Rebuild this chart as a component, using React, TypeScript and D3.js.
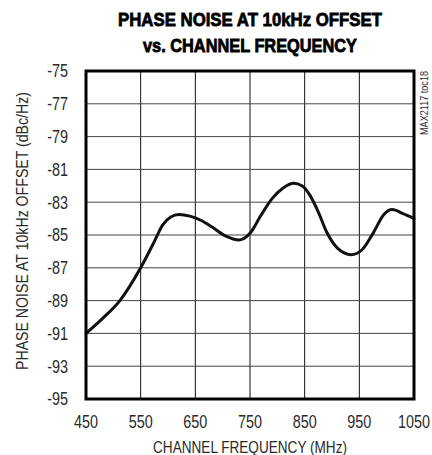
import React from "react";
import * as d3 from "d3";

const freqs = [450, 480, 512, 550, 575, 590, 605, 620, 640, 660, 680, 705, 730, 750, 770, 790, 810, 830, 845, 860, 875, 890, 910, 935, 955, 975, 995, 1010, 1030, 1050];
const noise = [-91.0, -90.1, -89.0, -87.0, -85.4, -84.4, -83.9, -83.75, -83.85, -84.1, -84.5, -85.05, -85.3, -84.9, -83.8, -82.8, -82.15, -81.85, -82.0, -82.6, -83.6, -84.8, -85.8, -86.2, -85.9, -84.9, -83.75, -83.45, -83.7, -84.0];
const xTicks = [450, 550, 650, 750, 850, 950, 1050];
const yTicks = [-75, -77, -79, -81, -83, -85, -87, -89, -91, -93, -95];
const titleLines = ["PHASE NOISE AT 10kHz OFFSET", "vs. CHANNEL FREQUENCY"];
const xLabel = "CHANNEL FREQUENCY (MHz)";
const yLabel = "PHASE NOISE AT 10kHz OFFSET (dBc/Hz)";
const tocLabel = "MAX2117 toc18";

const W = 432;
const H = 455;
const L = 86, R = 414, T = 71, B = 399;
const FONT = "'Liberation Sans', Arial, sans-serif";
const SX = 0.8;

function NText(props: { x: number; y: number; anchor: string; size: number; children: any; dy?: string; fill?: string }) {
  return (
    <text
      transform={`translate(${props.x},${props.y}) scale(${SX},1)`}
      dy={props.dy}
      textAnchor={props.anchor}
      fontFamily={FONT}
      fontSize={props.size}
      fill={props.fill || "#2a2a2a"}
    >
      {props.children}
    </text>
  );
}

export default function App() {
  const x = d3.scaleLinear().domain([450, 1050]).range([L, R]);
  const y = d3.scaleLinear().domain([-95, -75]).range([B, T]);
  const data = freqs.map((f, i) => [f, noise[i]] as [number, number]);
  const line = d3
    .line<[number, number]>()
    .x((d) => x(d[0]))
    .y((d) => y(d[1]))
    .curve(d3.curveMonotoneX);

  return (
    <svg width={W} height={H} style={{ position: "absolute", left: 0, top: 0, background: "#fff" }}>
      <rect x={0} y={0} width={W} height={H} fill="#fff" />
      {/* title */}
      <text x={250} y={26} textAnchor="middle" fontFamily={FONT} fontWeight="bold" fontSize={19}
        textLength={264} lengthAdjust="spacingAndGlyphs" fill="#000" stroke="#000" strokeWidth={0.8}>
        {titleLines[0]}
      </text>
      <text x={250} y={52} textAnchor="middle" fontFamily={FONT} fontWeight="bold" fontSize={19}
        textLength={214} lengthAdjust="spacingAndGlyphs" fill="#000" stroke="#000" strokeWidth={0.8}>
        {titleLines[1]}
      </text>
      {/* grid */}
      {xTicks.slice(1, -1).map((t) => (
        <line key={"gx" + t} x1={x(t)} x2={x(t)} y1={T} y2={B} stroke="#111" strokeWidth={1} />
      ))}
      {yTicks.slice(1, -1).map((t) => (
        <line key={"gy" + t} x1={L} x2={R} y1={y(t)} y2={y(t)} stroke="#444" strokeWidth={1} />
      ))}
      {/* curve */}
      <path d={line(data) || ""} fill="none" stroke="#111" strokeWidth={3} strokeLinejoin="round" strokeLinecap="round" />
      {/* frame */}
      <rect x={L} y={T} width={R - L} height={B - T} fill="none" stroke="#000" strokeWidth={3} />
      {/* y tick labels */}
      {yTicks.map((t) => (
        <NText key={"yl" + t} x={68} y={y(t)} dy="0.36em" anchor="end" size={18}>
          {t}
        </NText>
      ))}
      {/* x tick labels */}
      {xTicks.map((t) => (
        <NText key={"xl" + t} x={x(t)} y={428} anchor="middle" size={18}>
          {t}
        </NText>
      ))}
      <NText x={250} y={453} anchor="middle" size={17}>
        {xLabel}
      </NText>
      <text transform={`translate(28,231) rotate(-90)`} textAnchor="middle" fontFamily={FONT} fontSize={16.5}
        fill="#2a2a2a" textLength={278} lengthAdjust="spacingAndGlyphs">
        {yLabel}
      </text>
      <text transform={`translate(428,103) rotate(-90)`} textAnchor="middle" fontFamily={FONT} fontSize={10.5}
        fill="#2a2a2a" textLength={64} lengthAdjust="spacingAndGlyphs">
        {tocLabel}
      </text>
    </svg>
  );
}
